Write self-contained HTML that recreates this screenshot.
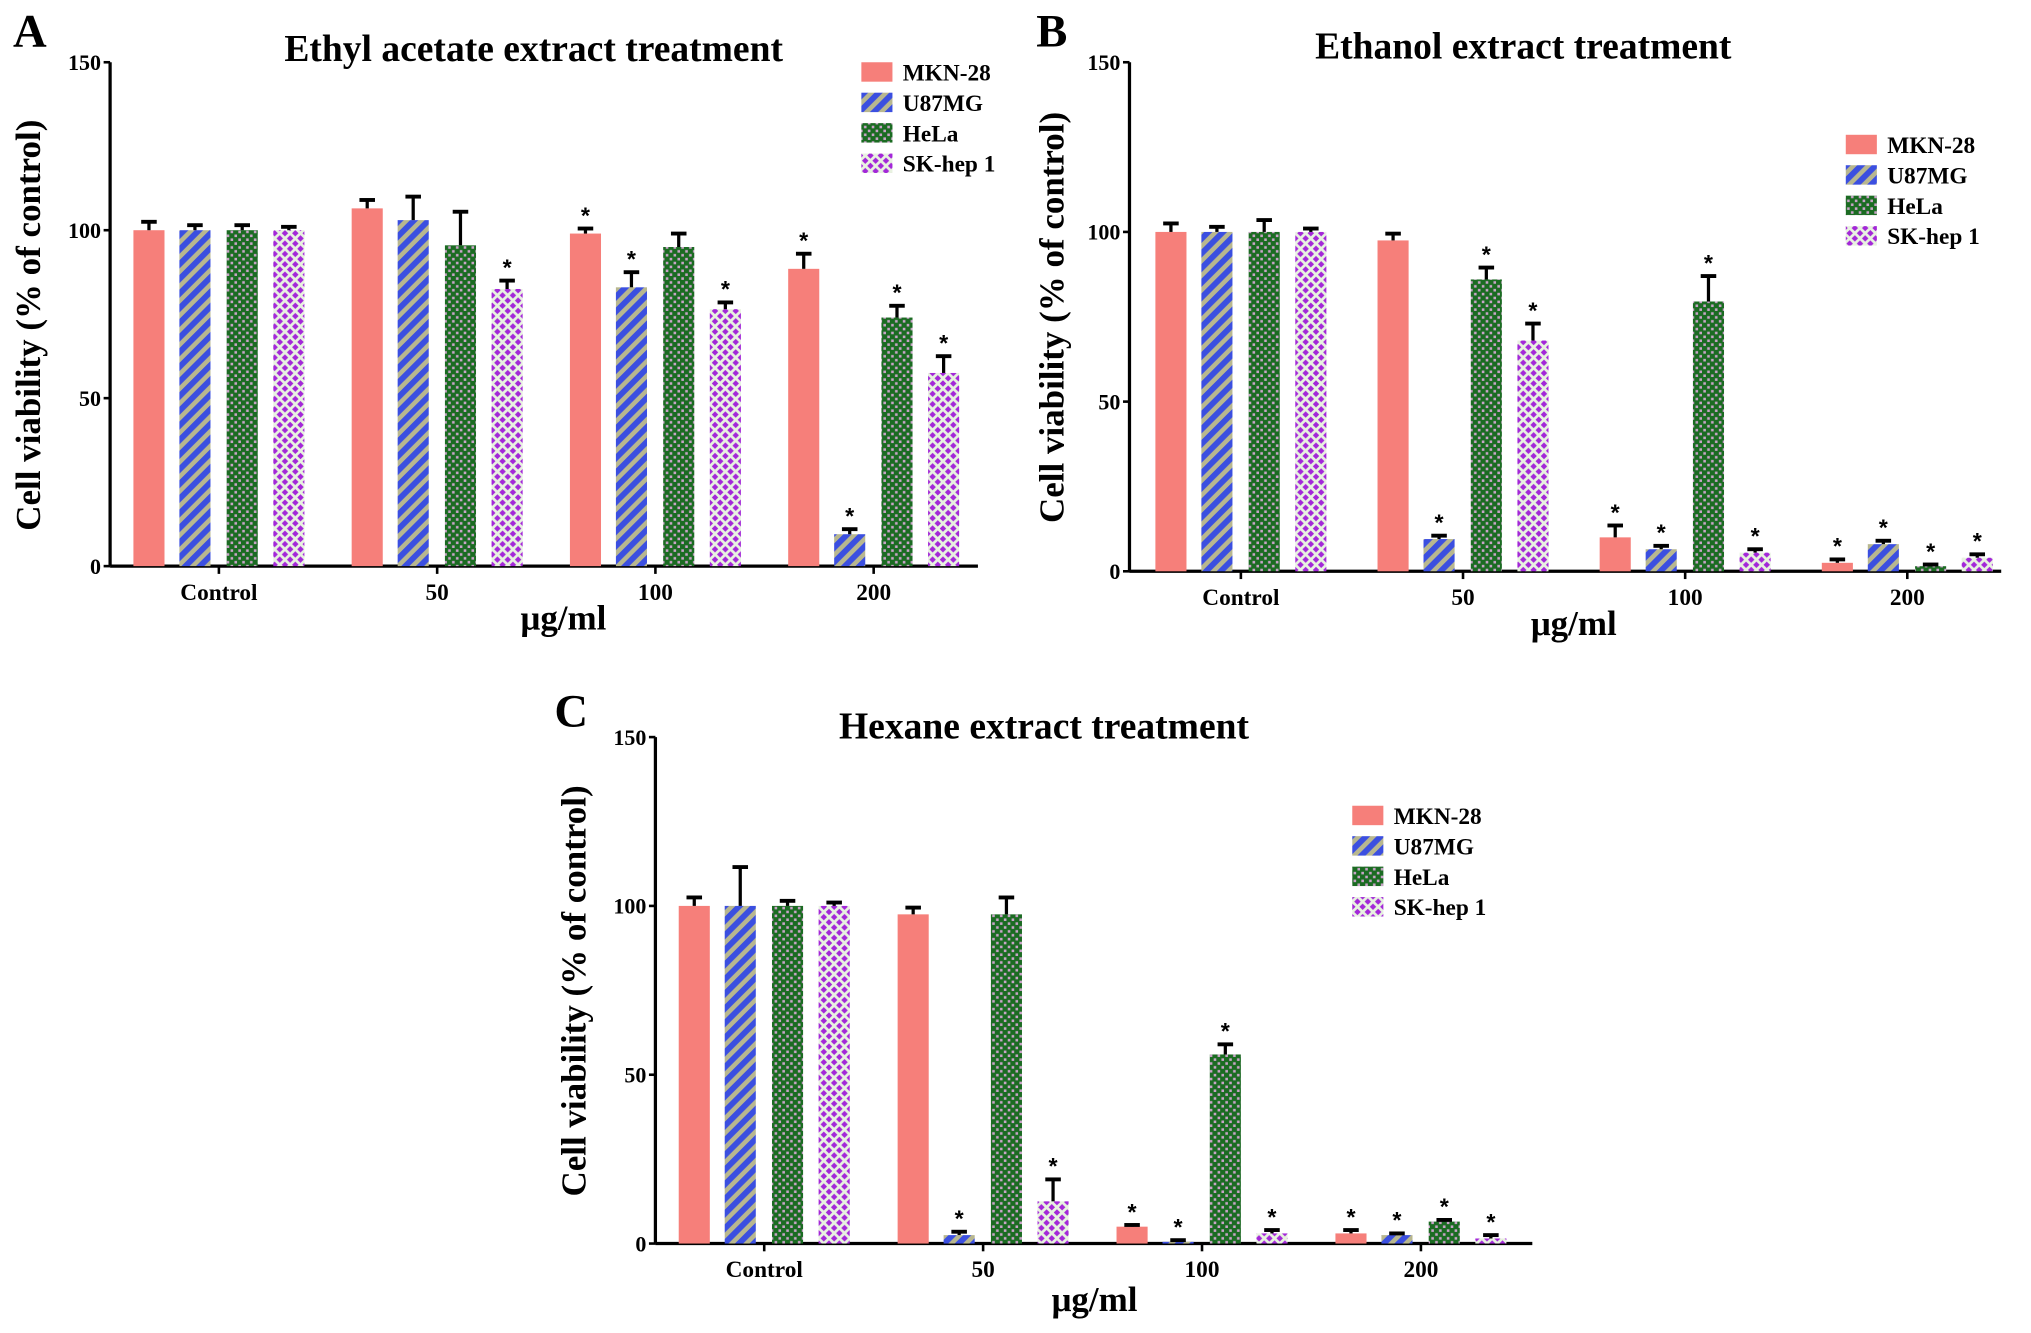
<!DOCTYPE html>
<html><head><meta charset="utf-8"><style>
html,body{margin:0;padding:0;background:#fff;}
svg{display:block;font-family:"Liberation Serif",serif;font-weight:bold;}
</style></head><body>
<svg id="fig" width="2031" height="1333" viewBox="0 0 1568 1029" xmlns="http://www.w3.org/2000/svg">
<defs>
<pattern id="pStripe" patternUnits="userSpaceOnUse" width="8" height="8" patternTransform="rotate(45)">
<rect width="8" height="8" fill="#b8b78f"/><rect width="4.5" height="8" fill="#3b4fe0"/></pattern>
<pattern id="pCheck" patternUnits="userSpaceOnUse" width="6" height="6">
<rect width="6" height="6" fill="#1b6b22"/><rect x="1" y="1" width="2" height="2" fill="#c9a3c8"/><rect x="4" y="4" width="2" height="2" fill="#c9a3c8"/></pattern>
<pattern id="pDot" patternUnits="userSpaceOnUse" width="8" height="8">
<rect width="8" height="8" fill="#e8f2e0"/><path d="M4 1.5L6.5 4L4 6.5L1.5 4Z" fill="#a328d8"/><path d="M0 -2.5L2.5 0L0 2.5L-2.5 0Z M8 -2.5L10.5 0L8 2.5L5.5 0Z M0 5.5L2.5 8L0 10.5L-2.5 8Z M8 5.5L10.5 8L8 10.5L5.5 8Z" fill="#a328d8"/></pattern>
</defs>
</svg>
<script>
const categories = ["Control","50","100","200"];
const seriesNames = ["MKN-28","U87MG","HeLa","SK-hep 1"];
// Panel A
const aMKN = [100,106.5,99,88.5];   const aMKNerr = [2.5,2.5,1.5,4.5];
const aU87 = [100,103,83,9.5];      const aU87err = [1.5,7,4.5,1.5];
const aHeLa = [100,95.5,95,74];     const aHeLaerr = [1.5,10,4,3.5];
const aSK = [100,82.5,76.5,57.5];   const aSKerr = [1,2.5,2,5];
const aStars = [[0,0,0,0],[0,0,0,1],[1,1,0,1],[1,1,1,1]];
// Panel B
const bMKN = [100,97.5,10,2.5];     const bMKNerr = [2.5,2,3.5,1];
const bU87 = [100,9.5,6.5,8];       const bU87err = [1.5,1,1,1];
const bHeLa = [100,86,79.5,1.5];    const bHeLaerr = [3.5,3.5,7.5,0.5];
const bSK = [100,68,5.5,4];         const bSKerr = [1,5,1,1];
const bStars = [[0,0,0,0],[0,1,1,1],[1,1,1,1],[1,1,1,1]];
// Panel C
const cMKN = [100,97.5,5,3];        const cMKNerr = [2.5,2,0.5,1];
const cU87 = [100,2.5,0.5,2.5];     const cU87err = [11.5,1,0.5,0.5];
const cHeLa = [100,97.5,56,6.5];    const cHeLaerr = [1.5,5,3,0.5];
const cSK = [100,12.5,3,1.5];       const cSKerr = [1,6.5,1,1];
const cStars = [[0,0,0,0],[0,1,0,1],[1,1,1,1],[1,1,1,1]];
const yTicks = [0,50,100,150];

const svg = document.getElementById('fig');
const NS = 'http://www.w3.org/2000/svg';
const fills = ['#f67f7a','url(#pStripe)','url(#pCheck)','url(#pDot)'];
function el(tag, attrs, parent){const e=document.createElementNS(NS,tag);for(const k in attrs)e.setAttribute(k,attrs[k]);(parent||svg).appendChild(e);return e;}

function panel(cfg){
  const g = el('g',{});
  
  
  const y = v => cfg.y0 - (cfg.y0 - cfg.yTop) * v / 150;
  const x = i => cfg.cx0 + i * cfg.step;
  const ya = el('line',{x1:cfg.ax,y1:cfg.yTop,x2:cfg.ax,y2:cfg.y0,stroke:'#000','stroke-width':2.5},g);
   
  const xa = el('line',{x1:cfg.ax,y1:cfg.y0,x2:cfg.axEnd,y2:cfg.y0,stroke:'#000','stroke-width':2.5},g);
   
  yTicks.forEach(t=>{
    el('line',{x1:cfg.ax-5,y1:y(t),x2:cfg.ax,y2:y(t),stroke:'#000','stroke-width':2},g);
    const tl = el('text',{x:cfg.ax-7,y:y(t)+6,'text-anchor':'end','font-size':17},g);
    tl.textContent = t;
     
  });
  categories.forEach((c,i)=>{
    el('line',{x1:x(i),y1:cfg.y0,x2:x(i),y2:cfg.y0+6,stroke:'#000','stroke-width':2},g);
    const tl = el('text',{x:x(i),y:cfg.y0+26,'text-anchor':'middle','font-size':18},g);
    tl.textContent = c;
     
  });
  const offs = [-54,-18.5,18,54];
  cfg.series.forEach((s,si)=>{
    s.v.forEach((v,i)=>{
      const cx = x(i)+offs[si];
      const top = y(v);
      const bar = el('rect',{x:cx-12,y:top,width:24,height:cfg.y0-top,fill:fills[si]},g);
      
      
      const et = y(v + s.e[i]);
      el('line',{x1:cx,y1:top,x2:cx,y2:et,stroke:'#000','stroke-width':2.5},g);
      el('line',{x1:cx-6,y1:et,x2:cx+6,y2:et,stroke:'#000','stroke-width':3},g);
      if(cfg.stars[i][si]){
        const st = el('text',{x:cx,y:et-4,'text-anchor':'middle','font-size':18,'font-family':'Liberation Sans, sans-serif'},g);
        st.textContent='*';
         
      }
    });
  });
  seriesNames.forEach((n,si)=>{
    const ly = cfg.legY + si*cfg.legStep;
    const sw = el('rect',{x:cfg.legX,y:ly-8,width:24,height:15,fill:fills[si]},g);
     
    const t = el('text',{x:cfg.legX+32,y:ly+6,'font-size':18},g);
    t.textContent = n;
     
  });
  const title = el('text',{x:cfg.titleX,y:cfg.titleY,'text-anchor':'middle','font-size':29},g);
  title.textContent = cfg.title;
   
  const lab = el('text',{x:cfg.labX,y:cfg.labY,'font-size':36},g);
  lab.textContent = cfg.label;
   
  const yt = el('text',{x:0,y:0,'text-anchor':'middle','font-size':27,transform:`translate(${cfg.ytX},${cfg.ytY}) rotate(-90)`},g);
  yt.textContent = 'Cell viability (% of control)';
   
  const xt = el('text',{x:cfg.xtX,y:cfg.xtY,'text-anchor':'middle','font-size':27},g);
  xt.textContent = 'μg/ml';
   
}

panel({name:'panel-a',label:'A',labX:10,labY:36,title:'Ethyl acetate extract  treatment',titleX:412,titleY:47,
  ax:85,axEnd:755,yTop:48,y0:437,cx0:169,step:168.5,
  series:[{v:aMKN,e:aMKNerr},{v:aU87,e:aU87err},{v:aHeLa,e:aHeLaerr},{v:aSK,e:aSKerr}],stars:aStars,
  legX:665,legY:56,legStep:23.5,ytX:31,ytY:251,xtX:435,xtY:486});
panel({name:'panel-b',label:'B',labX:800,labY:36,title:'Ethanol extract  treatment',titleX:1176,titleY:45,
  ax:872,axEnd:1545,yTop:48,y0:441,cx0:958,step:171.5,
  series:[{v:bMKN,e:bMKNerr},{v:bU87,e:bU87err},{v:bHeLa,e:bHeLaerr},{v:bSK,e:bSKerr}],stars:bStars,
  legX:1425,legY:112,legStep:23.5,ytX:821,ytY:245,xtX:1215,xtY:490});
panel({name:'panel-c',label:'C',labX:428,labY:561,title:'Hexane extract  treatment',titleX:806,titleY:570,
  ax:506,axEnd:1183,yTop:569,y0:960,cx0:590,step:169,
  series:[{v:cMKN,e:cMKNerr},{v:cU87,e:cU87err},{v:cHeLa,e:cHeLaerr},{v:cSK,e:cSKerr}],stars:cStars,
  legX:1044,legY:630,legStep:23.5,ytX:452,ytY:765,xtX:845,xtY:1012});
</script>
</body></html>
